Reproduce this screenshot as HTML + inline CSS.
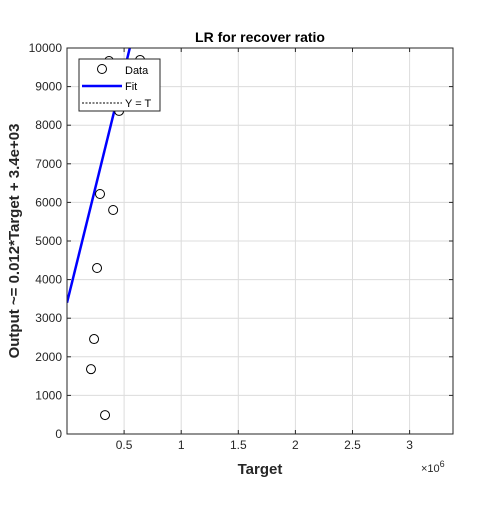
<!DOCTYPE html>
<html><head><meta charset="utf-8"><style>
body{margin:0;background:#fff;}
svg{font-family:"Liberation Sans",Arial,sans-serif;}
</style></head><body>
<svg id="c" width="500" height="500" viewBox="0 0 500 500">
<rect width="500" height="500" fill="#fff"/>
<g id="plot"></g>
</svg>
<script>
const dataX=[0.368e6,0.640e6,0.456e6,0.289e6,0.404e6,0.263e6,0.237e6,0.210e6,0.333e6];
const dataY=[9663,9690,8370,6218,5803,4300,2460,1680,490];
const fitSlope=0.012;
const fitIntercept=3400;
const xTicks=[0.5e6,1e6,1.5e6,2e6,2.5e6,3e6];
const xTickLabels=["0.5","1","1.5","2","2.5","3"];
const yTicks=[0,1000,2000,3000,4000,5000,6000,7000,8000,9000,10000];
const xMin=0,xMax=3.38e6,yMin=0,yMax=10000;
const L=67,R=453,T=48,B=434;
const sx=v=>L+(v-xMin)/(xMax-xMin)*(R-L);
const sy=v=>B-(v-yMin)/(yMax-yMin)*(B-T);
const NS="http://www.w3.org/2000/svg";
const g=document.getElementById('plot');
function mk(t,a,p){const e=document.createElementNS(NS,t);for(const k in a)e.setAttribute(k,a[k]);(p||g).appendChild(e);return e;}
const bg=mk('rect',{x:L,y:T,width:R-L,height:B-T,fill:'#fff'});


xTicks.forEach((v,i)=>{
 const gl=mk('line',{x1:sx(v),x2:sx(v),y1:T,y2:B,stroke:'#dcdcdc','stroke-width':1});
 
 
 mk('line',{x1:sx(v),x2:sx(v),y1:B,y2:B-4,stroke:'#262626'});
 mk('line',{x1:sx(v),x2:sx(v),y1:T,y2:T+4,stroke:'#262626'});
 const t=mk('text',{x:sx(v),y:B+15,'text-anchor':'middle','font-size':12,fill:'#262626'});
 t.textContent=xTickLabels[i];
 
 
});
yTicks.forEach(v=>{
 const gl=mk('line',{x1:L,x2:R,y1:sy(v),y2:sy(v),stroke:'#dcdcdc','stroke-width':1});
 
 
 mk('line',{x1:L,x2:L+4,y1:sy(v),y2:sy(v),stroke:'#262626'});
 mk('line',{x1:R,x2:R-4,y1:sy(v),y2:sy(v),stroke:'#262626'});
 const t=mk('text',{x:L-5,y:sy(v)+4,'text-anchor':'end','font-size':12,fill:'#262626'});
 t.textContent=String(v);
 
 
});
// fit line clipped
const cp=mk('clipPath',{id:'clip'});mk('rect',{x:L,y:T,width:R-L,height:B-T},cp);
const xEnd=(yMax-fitIntercept)/fitSlope;
const fl=mk('line',{x1:sx(xMin),y1:sy(fitIntercept+fitSlope*xMin),x2:sx(xEnd),y2:sy(fitIntercept+fitSlope*xEnd),stroke:'#0000ff','stroke-width':2.5,'clip-path':'url(#clip)'});


dataX.forEach((x,i)=>{
 const c=mk('circle',{cx:sx(x),cy:sy(dataY[i]),r:4.5,fill:'none',stroke:'#000','stroke-width':1});
 
 
});
const fr=mk('rect',{x:L,y:T,width:R-L,height:B-T,fill:'none',stroke:'#262626','stroke-width':1});


</script>
<svg width="500" height="500" style="position:absolute;left:0;top:0">
<text x="260" y="42" text-anchor="middle" font-size="14" font-weight="bold" fill="#000">LR for recover ratio</text>
<text x="260" y="474" text-anchor="middle" font-size="15" font-weight="bold" fill="#262626">Target</text>
<text x="421" y="472" font-size="11" fill="#262626">×10<tspan dy="-5" font-size="9">6</tspan></text>
<text transform="translate(19,241) rotate(-90)" text-anchor="middle" font-size="15" font-weight="bold" fill="#262626">Output ~= 0.012*Target + 3.4e+03</text>
<g>
<rect x="79" y="59" width="81" height="52" fill="#fff" stroke="#262626" stroke-width="1"/>
<circle cx="102" cy="69" r="4.5" fill="none" stroke="#000"/>
<text x="125" y="74" font-size="11" fill="#000">Data</text>
<line x1="82" y1="86" x2="122" y2="86" stroke="#0000ff" stroke-width="2.5"/>
<text x="125" y="90" font-size="11" fill="#000">Fit</text>
<line x1="82" y1="103" x2="122" y2="103" stroke="#000" stroke-width="1" stroke-dasharray="2,1.5"/>
<text x="125" y="107" font-size="11" fill="#000">Y = T</text>
</g>
</svg>
</body></html>
